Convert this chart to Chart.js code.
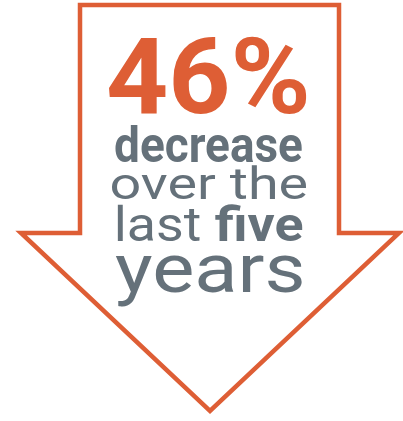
<!DOCTYPE html>
<html>
<head>
<meta charset="utf-8">
<script src="https://cdn.jsdelivr.net/npm/chart.js@4"></script>
<style>
  html, body { margin: 0; padding: 0; background: #ffffff; }
  #c { display: block; }
</style>
</head>
<body>
<canvas id="c" width="403" height="421"></canvas>
<script>
// ---- data ----
const percentValue = [46];
const headlineWords = ["decrease"];
const phraseWords = ["over the", "last", "five", "years"];
// outline of the down-arrow (in scale units)
const arrowShapeX = [210, 339, 339, 399, 210, 21, 80, 80, 210];
const arrowShapeY = [5, 5, 233, 233, 411, 233, 233, 5, 5];

const ORANGE = '#DE5E35';
const GRAY = '#65717A';
const FAMILY = 'Roboto, "Noto Sans", sans-serif';
const LIGHT = 400;
const BOLD = 700;

const arrowPoints = arrowShapeX.map((x, i) => ({ x: x, y: arrowShapeY[i] }));

const textLines = [
  { segs: [{ t: percentValue[0] + '%', w: BOLD }], size: 105, left: 108, right: 307, base: 113, color: ORANGE },
  { segs: [{ t: headlineWords[0], w: BOLD }], size: 50, left: 115, right: 302, base: 162, color: GRAY },
  { segs: [{ t: phraseWords[0], w: LIGHT }], size: 45, left: 112, right: 307, base: 199, color: GRAY },
  { segs: [{ t: phraseWords[1] + ' ', w: LIGHT }, { t: phraseWords[2], w: BOLD }], size: 49, left: 117, right: 303, base: 241, color: GRAY },
  { segs: [{ t: phraseWords[3], w: LIGHT }], size: 68, left: 115, right: 302, base: 292, color: GRAY }
];

const textPlugin = {
  id: 'arrowText',
  afterDatasetsDraw(chart) {
    const ctx = chart.ctx;
    const xs = chart.scales.x, ys = chart.scales.y;
    textLines.forEach(line => {
      let adv = 0, inkLeft = 0, inkRight = 0;
      line.segs.forEach((s, i) => {
        ctx.font = `${s.w} ${line.size}px ${FAMILY}`;
        const m = ctx.measureText(s.t);
        if (i === 0) inkLeft = m.actualBoundingBoxLeft;
        if (i === line.segs.length - 1) inkRight = adv + m.actualBoundingBoxRight;
        adv += m.width;
      });
      const inkW = inkLeft + inkRight;
      const left = xs.getPixelForValue(line.left);
      const right = xs.getPixelForValue(line.right);
      const base = ys.getPixelForValue(line.base);
      const sx = (right - left) / inkW;
      ctx.save();
      ctx.translate(left, base);
      ctx.scale(sx, 1);
      ctx.fillStyle = line.color;
      ctx.textBaseline = 'alphabetic';
      ctx.textAlign = 'left';
      let x = inkLeft;
      line.segs.forEach(s => {
        ctx.font = `${s.w} ${line.size}px ${FAMILY}`;
        ctx.fillText(s.t, x, 0);
        x += ctx.measureText(s.t).width;
      });
      ctx.restore();
    });
  }
};

new Chart(document.getElementById('c'), {
  type: 'scatter',
  data: {
    datasets: [{
      data: arrowPoints,
      showLine: true,
      fill: false,
      borderColor: ORANGE,
      borderWidth: 4.5,
      borderJoinStyle: 'miter',
      borderCapStyle: 'butt',
      pointRadius: 0,
      tension: 0
    }]
  },
  options: {
    responsive: false,
    animation: false,
    layout: { padding: 0 },
    plugins: { legend: { display: false }, tooltip: { enabled: false } },
    scales: {
      x: { type: 'linear', min: 0, max: 403, display: false },
      y: { type: 'linear', min: 0, max: 421, reverse: true, display: false }
    }
  },
  plugins: [textPlugin]
});
</script>
</body>
</html>
